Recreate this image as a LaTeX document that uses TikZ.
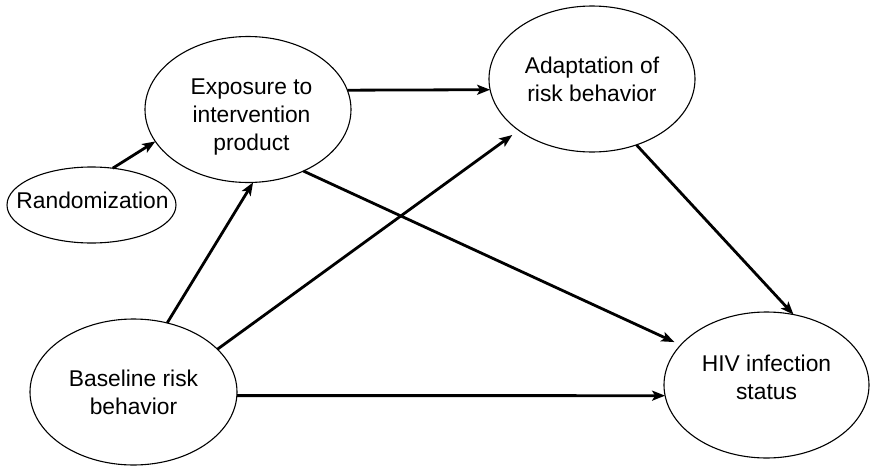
\documentclass[tikz,border=0pt]{standalone}
\usepackage{fontspec}
\setmainfont{Liberation Sans}
\usetikzlibrary{shapes.geometric,arrows.meta}
\newcommand\ovaltext[2]{\raisebox{#1}[0pt][0pt]{\begin{tabular}[c]{@{}c@{}}#2\end{tabular}}}
\begin{document}
\begin{tikzpicture}[x=1pt,y=1pt,
  oval/.style={draw=black,line width=1.1pt,ellipse,inner sep=0pt,outer sep=0pt,
    minimum width=206pt,minimum height=146pt,
    font=\fontsize{22.8}{28}\selectfont},
  conn/.style={line width=2.8pt,-{Stealth[length=13pt,width=10pt,inset=3pt]}}]
\useasboundingbox (0,0) rectangle (871,-466);
\node[oval] (expo) at (248,-109.5) {\hspace{7pt}\ovaltext{-12.6pt}{Exposure to\\intervention\\product}};
\node[oval] (adapt) at (592,-79) {\ovaltext{-7.6pt}{Adaptation of\\risk behavior}};
\node[oval,minimum width=169pt,minimum height=76pt,inner xsep=-40pt] (rand) at (91.5,-205) {\hspace{2pt}\ovaltext{-3pt}{Randomization}};
\node[oval,minimum width=207pt] (base) at (133.5,-392) {\ovaltext{-7.6pt}{Baseline risk\\behavior}};
\node[oval,minimum width=205pt] (hiv) at (766.5,-385) {\ovaltext{0pt}{HIV infection\\status}\hspace{8pt}};
\draw[conn] (rand.60.5) -- (expo.199.4);
\draw[conn] (expo.11.2) -- (adapt.186.2);
\draw[conn,shorten >=7pt] (expo.-48.1) -- (hiv.155.8);
\draw[conn] (base.64.4) -- (expo.-86.8);
\draw[conn,shorten >=8pt] (base.27.8) -- (adapt.215.8);
\draw[conn] (adapt.-56.7) -- (hiv.69.1);
\draw[conn] (base.-2.2) -- (hiv.186.2);
\end{tikzpicture}
\end{document}
